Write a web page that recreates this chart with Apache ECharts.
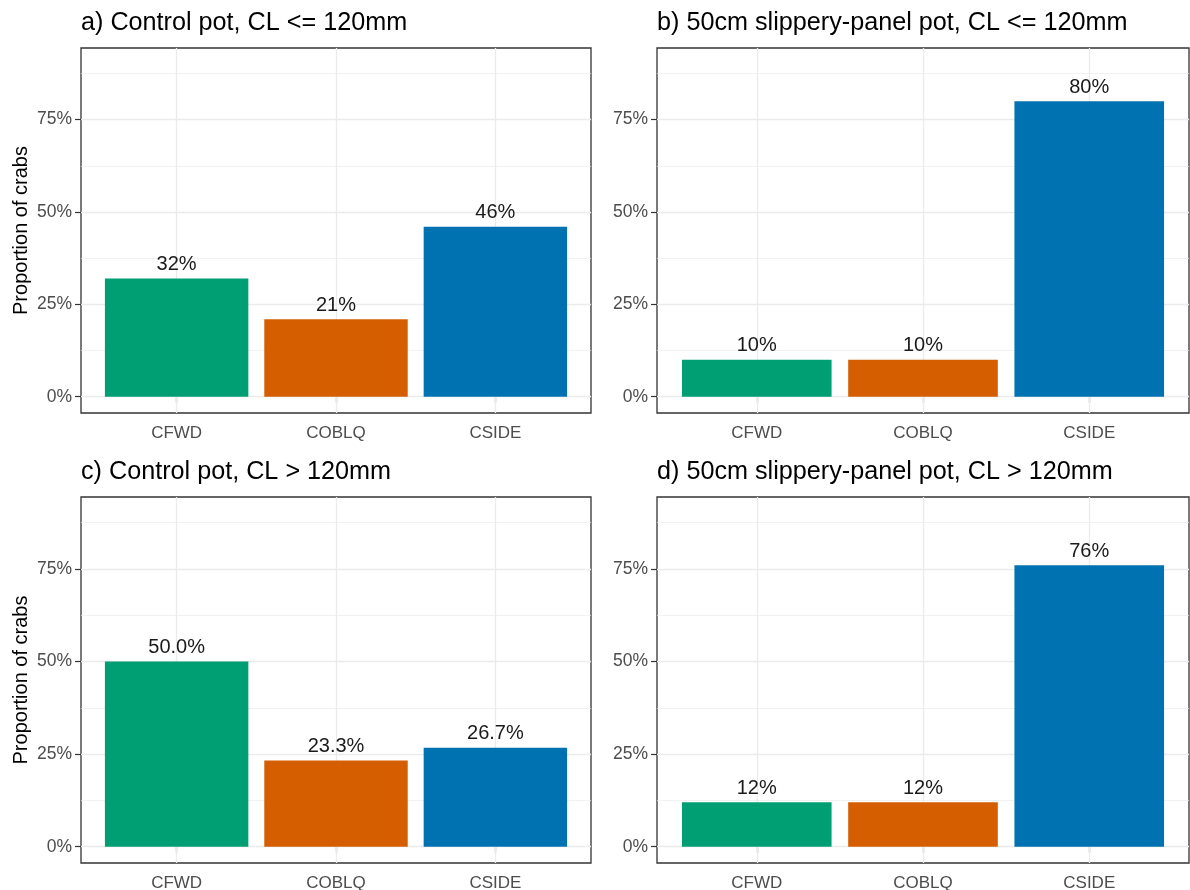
<!DOCTYPE html>
<html>
<head>
<meta charset="utf-8">
<title>Crab exit direction by pot type</title>
<script src="https://cdn.jsdelivr.net/npm/echarts@6/dist/echarts.min.js"></script>
<style>
  html, body { margin: 0; padding: 0; background: #ffffff; }
  #chart { width: 1190px; height: 890px; }
</style>
</head>
<body>
<div id="chart"></div>
<script>
// Exit categories and their fill colours
const categories = ['CFWD', 'COBLQ', 'CSIDE'];
const barColors = ['#009E73', '#D55E00', '#0072B2'];

// Facet titles
const panelTitles = [
  'a) Control pot, CL <= 120mm',
  'b) 50cm slippery-panel pot, CL <= 120mm',
  'c) Control pot, CL > 120mm',
  'd) 50cm slippery-panel pot, CL > 120mm'
];

// Proportion of crabs (%) per exit category, one array per facet
const controlSmall = [32, 21, 46];
const slipperySmall = [10, 10, 80];
const controlLarge = [50.0, 23.3, 26.7];
const slipperyLarge = [12, 12, 76];

// Decimal places used in each facet's bar labels
const labelDecimals = [0, 0, 1, 0];

// Y axis ticks (%)
const yMajorTicks = [0, 25, 50, 75];
const yMinorTicks = [12.5, 37.5, 62.5, 87.5];
const yTitle = 'Proportion of crabs';

const panelValues = [controlSmall, slipperySmall, controlLarge, slipperyLarge];

// Panel boxes in pixels
const panelBoxes = [
  { left: 81, top: 48, width: 510, height: 365 },
  { left: 657, top: 48, width: 532, height: 365 },
  { left: 81, top: 497, width: 510, height: 366 },
  { left: 657, top: 497, width: 532, height: 366 }
];

const FONT = "'Liberation Sans', Arial, sans-serif";
const GRID_COLOR = '#ebebeb';
const INK = '#333333';
const TICK_TEXT = '#4d4d4d';

const catPositions = categories.map((c, i) => i + 1);

const grids = [], xAxes = [], yAxes = [], series = [], titles = [];

panelBoxes.forEach((box, p) => {
  grids.push({
    left: box.left, top: box.top, width: box.width, height: box.height,
    show: true, borderColor: INK, borderWidth: 1.3, backgroundColor: '#ffffff',
    outerBoundsMode: 'none'
  });

  titles.push({
    text: panelTitles[p],
    left: box.left - 5,
    top: box.top - 42,
    textStyle: { fontFamily: FONT, fontSize: 25.2, fontWeight: 'normal', color: '#000000' }
  });

  xAxes.push({
    type: 'value', gridIndex: p, min: 0.4, max: 3.6,
    axisLine: { show: false },
    splitLine: { show: false },
    axisTick: { show: true, customValues: catPositions, length: 6, lineStyle: { color: INK, width: 1.2 } },
    axisLabel: {
      show: true, customValues: catPositions, margin: 12,
      formatter: v => categories[Math.round(v) - 1] || '',
      fontFamily: FONT, fontSize: 17, color: TICK_TEXT
    }
  });

  const leftCol = (p % 2 === 0);
  yAxes.push({
    type: 'value', gridIndex: p, min: -4.4, max: 94.4,
    name: leftCol ? yTitle : '',
    nameLocation: 'middle', nameRotate: 90, nameGap: 50,
    nameTextStyle: { fontFamily: FONT, fontSize: 20, color: '#000000' },
    axisLine: { show: false },
    splitLine: { show: false },
    axisTick: { show: true, customValues: yMajorTicks, length: 6, lineStyle: { color: INK, width: 1.2 } },
    axisLabel: {
      show: true, customValues: yMajorTicks, margin: 9,
      formatter: v => v + '%',
      fontFamily: FONT, fontSize: 17.5, color: TICK_TEXT
    }
  });

  const dec = labelDecimals[p];
  const gridLines = []
    .concat(yMajorTicks.map(v => ({ yAxis: v, lineStyle: { color: GRID_COLOR, width: 1.3, type: 'solid' } })))
    .concat(yMinorTicks.map(v => ({ yAxis: v, lineStyle: { color: GRID_COLOR, width: 0.7, type: 'solid' } })))
    .concat(catPositions.map(v => ({ xAxis: v, lineStyle: { color: GRID_COLOR, width: 1.3, type: 'solid' } })));

  series.push({
    type: 'bar',
    xAxisIndex: p, yAxisIndex: p,
    z: 2,
    barWidth: '90%',
    data: panelValues[p].map((v, i) => ({
      value: [catPositions[i], v],
      itemStyle: { color: barColors[i] }
    })),
    label: {
      show: true, position: 'top', distance: 4,
      formatter: prm => prm.value[1].toFixed(dec) + '%',
      fontFamily: FONT, fontSize: 20, color: '#1a1a1a'
    },
    markLine: {
      silent: true, symbol: 'none', z: 1,
      label: { show: false },
      emphasis: { disabled: true },
      animation: false,
      data: gridLines
    }
  });
});

const chart = echarts.init(document.getElementById('chart'), null, { renderer: 'canvas' });
chart.setOption({
  animation: false,
  backgroundColor: '#ffffff',
  title: titles,
  grid: grids,
  xAxis: xAxes,
  yAxis: yAxes,
  series: series
});
</script>
</body>
</html>
